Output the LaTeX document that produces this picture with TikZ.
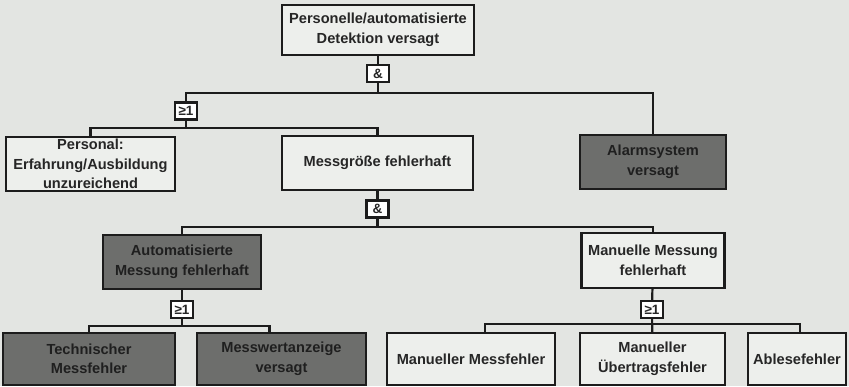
\documentclass[tikz,border=0pt]{standalone}
\usepackage{fontspec}
\setmainfont{Liberation Sans}
\usepackage{tikz}
\usetikzlibrary{positioning}
\definecolor{paper}{HTML}{E3E5E2}
\definecolor{lightbox}{HTML}{EDEFEC}
\definecolor{darkbox}{HTML}{6D6E6C}
\definecolor{edge}{HTML}{1C1C1C}
\definecolor{ink}{HTML}{262626}

\begin{document}
\begin{tikzpicture}[x=1pt,y=-1pt,
    event/.style={draw=edge,line width=2.2pt,fill=lightbox,align=center,inner sep=2pt,
      text=ink,font=\fontsize{14.6}{19.5}\selectfont\bfseries},
    darkevent/.style={event,fill=darkbox,text=black!88},
    gate/.style={draw=edge,line width=2.2pt,fill=white,inner sep=0pt,
      minimum width=22pt,minimum height=17pt,text=ink,font=\fontsize{13.5}{13.5}\selectfont\bfseries},
    conn/.style={draw=edge,line width=2.2pt}]

    % Background
    \path[use as bounding box,fill=paper] (0,0) rectangle (849,386);

    % Top event
    \node[event,minimum width=192pt,minimum height=50pt] (top) at (378,30) {Personelle/automatisierte\\Detektion versagt};
    \node[gate] (g1) at (378,73.5) {\&};

    % First level
    \node[gate] (g2) at (186,111) {≥1};
    \node[event,minimum width=169pt,minimum height=54pt] (personal) at (90.5,164) {Personal:\\Erfahrung/Ausbildung\\unzureichend};
    \node[event,minimum width=191pt,minimum height=54pt] (mess) at (377.5,163) {Messgröße fehlerhaft};
    \node[darkevent,minimum width=146pt,minimum height=54pt] (alarm) at (653,162) {Alarmsystem\\versagt};
    \node[gate] (g3) at (377.5,209) {\&};

    % Second level
    \node[darkevent,minimum width=158pt,minimum height=54pt] (auto) at (182,262) {Automatisierte\\Messung fehlerhaft};
    \node[event,minimum width=143pt,minimum height=55pt] (manu) at (653,260.5) {Manuelle Messung\\fehlerhaft};
    \node[gate] (g4) at (182,309.5) {≥1};
    \node[gate] (g5) at (652,309.5) {≥1};

    % Basic events
    \node[darkevent,minimum width=172pt,minimum height=52pt] (tech) at (89,359) {Technischer\\Messfehler};
    \node[darkevent,minimum width=169pt,minimum height=52pt] (anzeige) at (281.5,359) {Messwertanzeige\\versagt};
    \node[event,minimum width=168pt,minimum height=52pt] (mfehler) at (471,359) {Manueller Messfehler};
    \node[event,minimum width=145pt,minimum height=52pt] (ufehler) at (652.5,359) {Manueller\\Übertragsfehler};
    \node[event,minimum width=98pt,minimum height=52pt] (ablese) at (797,359) {Ablesefehler};

    % Junctions
    \coordinate (j1) at (378,93);
    \coordinate (j2) at (186,128);
    \coordinate (j3) at (377.5,227);
    \coordinate (j4) at (182,326);
    \coordinate (j5) at (652,324);

    % Connectors
    \draw[conn] (top) -- (g1);
    \draw[conn] (g1) -- (j1);
    \draw[conn] (g2) |- (j1) -| (alarm);
    \draw[conn] (g2) -- (j2);
    \draw[conn] (personal) |- (j2) -| (mess);
    \draw[conn] (mess) -- (g3);
    \draw[conn] (g3) -- (j3);
    \draw[conn] (auto) |- (j3) -| (manu);
    \draw[conn] (auto) -- (g4);
    \draw[conn] (g4) -- (j4);
    \draw[conn] (tech) |- (j4) -| ([xshift=-12pt]anzeige.north);
    \draw[conn] (manu) -- (g5);
    \draw[conn] (g5) -- (ufehler);
    \draw[conn] ([xshift=14pt]mfehler.north) |- (j5) -| ([xshift=3pt]ablese.north);

\end{tikzpicture}
\end{document}
